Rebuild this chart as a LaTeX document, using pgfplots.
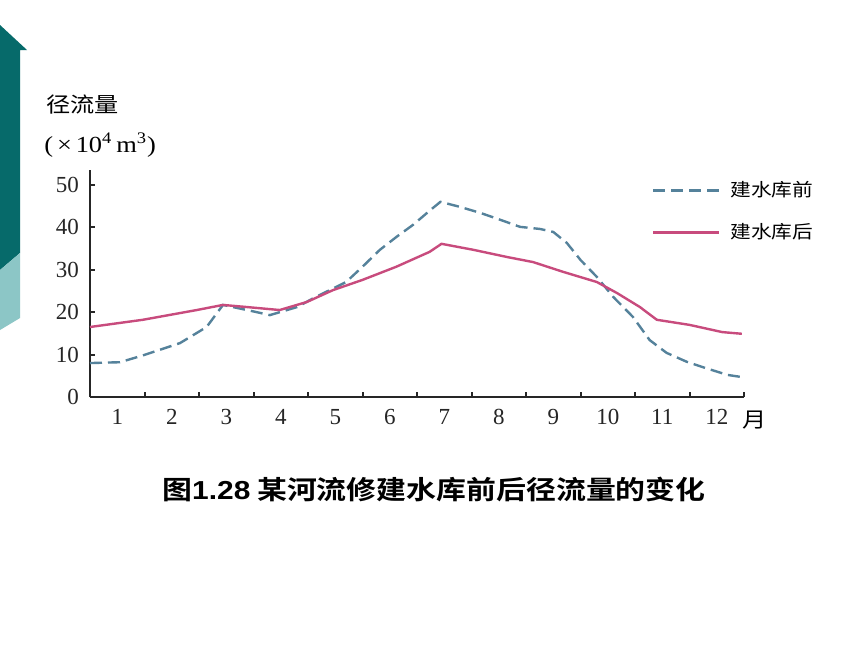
\documentclass[border=0pt]{standalone}
\usepackage{pgfplots}
\pgfplotsset{compat=1.18}
\usepackage{pgfplotstable}
\usepackage{fontspec}
\setmainfont{Liberation Serif}
\newfontfamily\cjk{Noto Sans CJK SC}[FakeStretch=1.15]
\newfontfamily\cjkb{Noto Sans CJK SC Bold}[FakeStretch=1.15]
\newfontfamily\serifw{Liberation Serif}[FakeStretch=1.15]
\newfontfamily\sansw{Liberation Sans}[FakeStretch=1.15]
\definecolor{before}{RGB}{85,130,155}
\definecolor{after}{RGB}{200,75,125}
\definecolor{darkteal}{RGB}{6,106,106}
\definecolor{lightteal}{RGB}{140,198,198}

\pgfplotstableread{
x y
0 8.0
0.55 8.2
0.97 9.8
1.65 12.7
2.14 16.5
2.44 21.7
3.06 20.0
3.30 19.3
3.80 21.2
4.10 23.3
4.70 27.1
5.00 30.7
5.32 34.7
5.63 37.8
5.93 40.6
6.24 44.0
6.43 46.0
6.79 44.8
7.16 43.4
7.52 41.8
7.89 40.1
8.26 39.6
8.50 38.9
8.75 36.3
9.00 32.3
9.30 28.3
9.60 23.6
9.96 18.9
10.27 13.4
10.58 10.4
10.95 8.3
11.30 6.8
11.70 5.2
11.96 4.7
}\beforetab

\pgfplotstableread{
x y
0 16.5
0.97 18.2
1.96 20.5
2.44 21.7
2.88 21.2
3.48 20.5
3.98 22.4
4.46 25.2
5.00 27.6
5.62 30.7
6.23 34.2
6.45 36.1
7.03 34.7
7.65 33.0
8.13 31.8
8.68 29.5
9.30 27.1
9.67 24.5
10.09 21.2
10.40 18.2
11.00 17.0
11.60 15.3
11.96 14.9
}\aftertab

\begin{document}
\begin{tikzpicture}[x=0.5pt,y=0.5pt]
\path[use as bounding box, fill=white] (0,0) rectangle (860,645);
% slide decoration
\fill[darkteal] (0,620) -- (27,595) -- (20,595) -- (20,392) -- (0,375) -- cycle;
\fill[lightteal] (0,375) -- (20,392) -- (20,327) -- (0,315) -- cycle;
\coordinate (O) at (90,248);

\begin{axis}[
  at={(O)}, anchor=south west,
  scale only axis,
  width=327pt, height=113.5pt,
  xmin=0, xmax=12, ymin=0, ymax=53.5,
  axis x line=bottom, axis y line=left,
  axis line style={-, line width=1pt, black!85},
  tick align=inside,
  major tick length=2.5pt,
  tick style={line width=1pt, black!85},
  xtick={1,...,12}, xticklabels={},
  extra x ticks={0.5,1.5,...,11.5},
  extra x tick labels={1,2,3,4,5,6,7,8,9,10,11,12},
  extra x tick style={major tick length=0pt},
  ytick={0,10,...,50},
  /pgf/number format/assume math mode=true,
  tick label style={font=\fontsize{11.5}{13}\selectfont, black!85},
  xticklabel style={yshift=-2.5pt},
  yticklabel style={xshift=-2pt},
  clip=false,
  legend style={draw=none, fill=none, at={(rel axis cs:0.859,0.952)}, anchor=north west,
    font=\cjk\fontsize{9}{11}\selectfont, row sep=12pt, inner sep=0pt,
    nodes={inner sep=0pt, anchor=west}},
  legend cell align=left,
  legend image code/.code={\draw[#1] (0pt,0pt) -- (33pt,0pt);},
  every axis legend/.append style={column sep=5pt},
]
\addplot[before, line width=1.2pt, dash pattern=on 6pt off 3pt] table[x=x,y=y] {\beforetab};
\addlegendentry{建水库前}
\addplot[after, line width=1.2pt] table[x=x,y=y] {\aftertab};
\addlegendentry{建水库后}
\end{axis}

\node[anchor=west, inner sep=0pt, font=\cjk\fontsize{10.5}{12}\selectfont] at (46,540) {径流量};
\node[anchor=west, inner sep=0pt, font=\serifw\fontsize{11.5}{12}\selectfont] at (44,500) {(\,×\,10\textsuperscript{4}\,m\textsuperscript{3})};
\node[inner sep=0pt, font=\cjk\fontsize{10.5}{12}\selectfont] at (755,225) {月};
\node[inner sep=0pt, font=\cjkb\fontsize{13}{15}\selectfont] at (434,155) {图{\sansw\bfseries 1.28} 某河流修建水库前后径流量的变化};
\end{tikzpicture}
\end{document}
